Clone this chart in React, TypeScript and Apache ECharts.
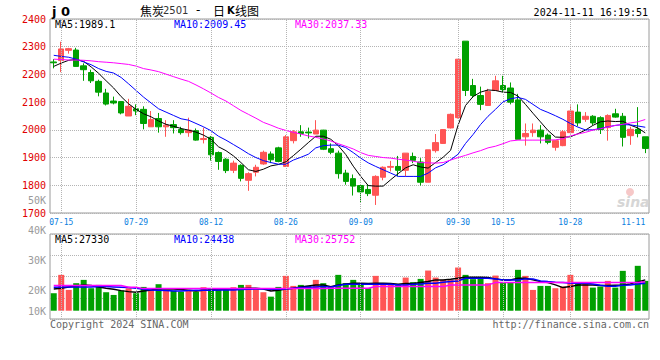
import React, { useEffect, useRef } from 'react';
import * as echarts from 'echarts';

const dates = [
  '07-12', '07-15', '07-16', '07-17', '07-18', '07-19', '07-22', '07-23', '07-24', '07-25',
  '07-26', '07-29', '07-30', '07-31', '08-01', '08-02', '08-05', '08-06', '08-07', '08-08',
  '08-09', '08-12', '08-13', '08-14', '08-15', '08-16', '08-19', '08-20', '08-21', '08-22',
  '08-23', '08-26', '08-27', '08-28', '08-29', '08-30', '09-02', '09-03', '09-04', '09-05',
  '09-06', '09-09', '09-10', '09-11', '09-12', '09-13', '09-18', '09-19', '09-20', '09-23',
  '09-24', '09-25', '09-26', '09-27', '09-30', '10-08', '10-09', '10-10', '10-11', '10-14',
  '10-15', '10-16', '10-17', '10-18', '10-21', '10-22', '10-23', '10-24', '10-25', '10-28',
  '10-29', '10-30', '10-31', '11-01', '11-04', '11-05', '11-06', '11-07', '11-08', '11-11',
];

const gridDates = ['07-15', '07-29', '08-12', '08-26', '09-09', '09-30', '10-15', '10-28'];
const labelDates = ['07-15', '07-29', '08-12', '08-26', '09-09', '09-30', '10-15', '10-28', '11-11'];

const opens = [
  2245, 2250, 2287, 2288, 2231, 2207, 2175, 2133, 2104, 2102,
  2050, 2076, 2074, 2011, 2041, 2011, 2019, 2001, 1990, 1997,
  1965, 1973, 1918, 1894, 1854, 1872, 1818, 1847, 1877, 1913,
  1935, 1868, 1961, 1993, 1992, 1985, 1999, 1932, 1916, 1844,
  1824, 1799, 1785, 1764, 1829, 1865, 1868, 1854, 1904, 1884,
  1811, 1925, 1951, 2007, 2044, 2320, 2160, 2124, 2088, 2142,
  2160, 2151, 2108, 1975, 1990, 1999, 1981, 1937, 1943, 1990,
  2064, 2038, 2049, 2044, 2008, 2058, 2049, 1979, 2002, 1975,
];
const closes = [
  2242, 2292, 2293, 2229, 2217, 2177, 2136, 2093, 2097, 2061,
  2085, 2068, 2023, 2037, 2011, 2017, 2008, 1990, 1999, 1963,
  1969, 1910, 1886, 1853, 1880, 1825, 1842, 1865, 1919, 1892,
  1886, 1975, 1993, 1987, 1989, 1999, 1930, 1919, 1842, 1814,
  1797, 1776, 1770, 1832, 1865, 1868, 1854, 1916, 1890, 1811,
  1928, 1954, 2001, 2056, 2255, 2142, 2124, 2092, 2138, 2177,
  2145, 2100, 1966, 1987, 1999, 1975, 1955, 1961, 1993, 2068,
  2025, 2049, 2025, 2001, 2052, 2046, 1973, 2002, 1987, 1933,
];
const lows = [
  2222, 2208, 2275, 2228, 2177, 2169, 2121, 2088, 2092, 2056,
  2050, 2053, 2002, 2011, 1990, 1975, 1987, 1983, 1975, 1961,
  1951, 1889, 1856, 1844, 1844, 1814, 1780, 1832, 1874, 1880,
  1883, 1866, 1951, 1975, 1969, 1985, 1927, 1912, 1824, 1802,
  1763, 1737, 1761, 1729, 1818, 1850, 1832, 1832, 1880, 1799,
  1811, 1918, 1949, 2005, 2041, 2122, 2115, 2071, 2086, 2140,
  2136, 2092, 1966, 1943, 1975, 1951, 1948, 1925, 1941, 1987,
  2013, 2029, 2017, 1985, 1961, 2044, 1940, 1946, 1973, 1916,
];
const highs = [
  2255, 2318, 2296, 2296, 2240, 2217, 2181, 2148, 2120, 2103,
  2112, 2092, 2085, 2068, 2061, 2035, 2035, 2011, 2044, 2005,
  2008, 1978, 1922, 1898, 1889, 1876, 1847, 1874, 1925, 1922,
  1939, 1981, 1999, 2017, 2008, 2035, 2000, 1951, 1925, 1856,
  1839, 1799, 1803, 1836, 1868, 1888, 1906, 1916, 1918, 1898,
  1928, 1985, 2003, 2059, 2255, 2320, 2184, 2156, 2148, 2195,
  2195, 2171, 2130, 2023, 2023, 2017, 1987, 1963, 1999, 2088,
  2092, 2064, 2053, 2049, 2056, 2076, 2061, 2011, 2082, 1975,
];

const ma5 = [
  2229, 2241, 2251, 2254, 2247, 2227, 2204, 2177, 2151, 2120,
  2094, 2074, 2058, 2047, 2032, 2020, 2013, 2005, 1999, 1992,
  1981, 1966, 1939, 1925, 1906, 1882, 1856, 1850, 1858, 1870,
  1875, 1885, 1907, 1930, 1954, 1977, 1977, 1966, 1943, 1911,
  1869, 1832, 1799, 1797, 1797, 1820, 1842, 1863, 1874, 1866,
  1862, 1882, 1901, 1926, 2017, 2088, 2120, 2136, 2144, 2142,
  2136, 2135, 2122, 2092, 2060, 2029, 1998, 1974, 1973, 1975,
  1986, 1999, 2016, 2029, 2032, 2030, 2031, 2017, 2007, 1989.1,
];
const ma10 = [
  2269, 2265, 2262, 2255, 2245, 2235, 2221, 2211, 2205, 2189,
  2166, 2142, 2118, 2097, 2076, 2064, 2052, 2040, 2035, 2023,
  2011, 1997, 1977, 1963, 1947, 1931, 1914, 1900, 1889, 1882,
  1876, 1876, 1891, 1901, 1912, 1935, 1943, 1945, 1945, 1936,
  1918, 1898, 1881, 1868, 1856, 1844, 1832, 1832, 1832, 1832,
  1844, 1863, 1874, 1892, 1912, 1951, 1983, 2019, 2049, 2074,
  2101, 2112, 2117, 2110, 2092, 2074, 2063, 2051, 2038, 2023,
  2010, 2000, 2000, 2005, 2011, 2016, 2019, 2018, 2014, 2009.45,
];
const ma30 = [
  2255, 2254, 2252, 2252, 2251, 2249, 2246, 2244, 2242, 2239,
  2236, 2230, 2221, 2216, 2210, 2201, 2192, 2183, 2175, 2162,
  2148, 2133, 2117, 2104, 2087, 2070, 2056, 2042, 2027, 2017,
  2006, 1998, 1991, 1985, 1978, 1973, 1967, 1960, 1950, 1941,
  1931, 1918, 1908, 1904, 1900, 1898, 1894, 1891, 1887, 1882,
  1881, 1880, 1882, 1891, 1900, 1908, 1917, 1925, 1935, 1941,
  1950, 1960, 1963, 1963, 1963, 1963, 1963, 1964, 1968, 1978,
  1985, 1991, 1999, 2004, 2010, 2016, 2020, 2025, 2029, 2037.33,
];

const volumes = [
  15490, 31770, 18420, 24390, 27320, 19940, 22870, 16380, 13970, 17800,
  19940, 15490, 21090, 18420, 23500, 18420, 17800, 16910, 18420, 16910,
  20830, 19940, 18420, 18420, 20830, 22870, 22870, 19310, 16380, 12460,
  21090, 30880, 21980, 22870, 21980, 27320, 24390, 21360, 31770, 24390,
  27320, 23500, 19940, 30880, 24390, 23500, 22870, 29370, 25280, 28210,
  35600, 29370, 27320, 27320, 38270, 31770, 27950, 28210, 24390, 31150,
  25280, 25280, 36220, 30880, 18420, 21980, 21980, 19940, 21360, 31770,
  24390, 23500, 20470, 21360, 26430, 20470, 35330, 19310, 39780, 26430,
];
const volMa5 = [
  19310, 19940, 21090, 21980, 22870, 22250, 21090, 19940, 19050, 17800,
  16910, 16380, 17530, 18420, 19310, 19310, 19310, 18690, 18160, 17530,
  18160, 18420, 18690, 19050, 19310, 19580, 19940, 19940, 19310, 17530,
  18160, 19310, 19940, 21090, 21980, 22870, 22870, 21360, 22870, 23760,
  24390, 24390, 24030, 24390, 24390, 24030, 23500, 24030, 24030, 24920,
  25810, 27320, 27320, 27950, 28840, 29730, 29730, 29730, 29370, 28210,
  27320, 27320, 28840, 28840, 27320, 25810, 24920, 22870, 20470, 21360,
  22870, 22870, 22870, 22250, 22250, 22610, 22870, 23760, 25540, 27330,
];
const volMa10 = [
  20830, 21090, 21090, 21090, 21090, 21090, 21360, 21360, 21090, 20830,
  20470, 19940, 19050, 18420, 18160, 17800, 17530, 17530, 17800, 18160,
  18160, 18160, 18420, 18420, 18420, 18690, 19050, 19310, 19310, 19050,
  19050, 19310, 19940, 20470, 20830, 21090, 21360, 20830, 22250, 23500,
  23500, 23500, 23500, 23500, 23500, 23500, 22870, 22870, 23500, 23760,
  24390, 24390, 25280, 25810, 26430, 28840, 28840, 28840, 28840, 28210,
  27320, 27320, 27320, 28210, 28210, 26430, 25810, 25280, 24920, 24390,
  24390, 24390, 23760, 22610, 21720, 21720, 22610, 22870, 23760, 24438,
];
const volMa30 = [
  22250, 22250, 22250, 22250, 22250, 22250, 22250, 22250, 22250, 22250,
  20830, 20830, 19580, 19580, 19580, 19580, 19580, 19580, 19580, 19580,
  19580, 19580, 19580, 19580, 19580, 19580, 19580, 19580, 19580, 19580,
  19580, 19580, 19580, 19580, 19580, 19580, 19580, 19940, 19940, 19940,
  19940, 19940, 19940, 21360, 21360, 21360, 21360, 21360, 21360, 21360,
  21360, 21360, 21360, 22870, 22870, 22870, 22870, 22870, 22870, 24920,
  24920, 24920, 24920, 24920, 24920, 24920, 24920, 24920, 24920, 24920,
  24920, 24920, 24920, 24920, 24920, 24920, 24920, 24920, 24920, 25752,
];

const MONO = '"DejaVu Sans Mono", monospace';
const RED = '#ff5555';
const GREEN = '#00a000';
const GRIDC = '#b4b4b4';

const candleData = dates.map((_, i) => [opens[i], closes[i], lows[i], highs[i]]);
const volData = volumes.map((v, i) => ({
  value: v,
  itemStyle: { color: closes[i] >= opens[i] ? RED : GREEN },
}));

const vMarkLine = {
  silent: true,
  symbol: ['none', 'none'],
  label: { show: false },
  emphasis: { disabled: true },
  lineStyle: { type: 'dotted', color: GRIDC, width: 1 },
  data: gridDates.map((d) => ({ xAxis: d })),
};

const txt = (x: number, y: number, text: string, fill: string, extra: any = {}) => ({
  type: 'text',
  x,
  y,
  silent: true,
  style: {
    text,
    fill,
    fontFamily: MONO,
    fontSize: 10,
    verticalAlign: 'middle',
    ...extra,
  },
});

const lineS = (name: string, data: number[], color: string, xi: number, yi: number, width = 1) => ({
  name,
  type: 'line',
  xAxisIndex: xi,
  yAxisIndex: yi,
  data,
  symbol: 'none',
  silent: true,
  lineStyle: { color, width },
  z: 3,
});

const option: any = {
  animation: false,
  backgroundColor: '#ffffff',
  grid: [
    { left: 50, right: 11, top: 19, height: 194, show: true, borderColor: '#9a9a9a', borderWidth: 1 },
    { left: 50, right: 11, top: 234, height: 85, show: true, borderColor: '#9a9a9a', borderWidth: 1 },
    { left: 50, right: 11, top: 234, height: 76.7 },
    { left: 50, right: 11, top: 200.5, height: 119.5 },
  ],
  xAxis: [
    {
      gridIndex: 0,
      type: 'category',
      data: dates,
      boundaryGap: true,
      axisLine: { show: false },
      axisTick: { show: false },
      splitLine: { show: false },
      axisLabel: {
        interval: (_i: number, v: string) => labelDates.includes(v),
        color: '#0a7ee0',
        fontFamily: MONO,
        fontSize: 8,
        margin: 5,
        alignMaxLabel: 'right',
      },
    },
    { gridIndex: 1, type: 'category', data: dates, show: false },
    { gridIndex: 2, type: 'category', data: dates, show: false },
    { gridIndex: 3, type: 'category', data: dates, show: false },
  ],
  yAxis: [
    {
      gridIndex: 0,
      type: 'value',
      min: 1700,
      max: 2400,
      interval: 100,
      axisLine: { show: false },
      axisTick: { show: false },
      splitLine: { lineStyle: { type: 'dotted', color: GRIDC } },
      axisLabel: {
        color: '#e00000',
        fontFamily: MONO,
        fontSize: 10,
        margin: 4,
        padding: [0, 0, 3, 0],
        formatter: (v: number) => String(v),
      },
    },
    {
      gridIndex: 1,
      type: 'value',
      min: 0,
      max: 4,
      interval: 1,
      axisLine: { show: false },
      axisTick: { show: false },
      axisLabel: { show: false },
      splitLine: { lineStyle: { type: 'dotted', color: GRIDC } },
    },
    { gridIndex: 2, type: 'value', min: 0, max: 68000, show: false },
    {
      gridIndex: 3,
      type: 'value',
      min: 10000,
      max: 50000,
      interval: 10000,
      axisLine: { show: false },
      axisTick: { show: false },
      splitLine: { show: false },
      axisLabel: {
        color: '#9a9a9a',
        fontFamily: MONO,
        fontSize: 10,
        margin: 4,
        formatter: (v: number) => (v === 10000 ? '{lo|10K}' : v / 1000 + 'K'),
        rich: {
          lo: { color: '#9a9a9a', fontFamily: MONO, fontSize: 10, padding: [0, 0, 18, 0] },
        },
      },
    },
  ],
  series: [
    {
      name: 'K',
      type: 'candlestick',
      xAxisIndex: 0,
      yAxisIndex: 0,
      data: candleData,
      barWidth: 6,
      silent: true,
      itemStyle: { color: RED, color0: GREEN, borderColor: RED, borderColor0: GREEN, borderWidth: 1 },
      markLine: vMarkLine,
      z: 2,
    },
    lineS('MA5', ma5, '#000000', 0, 0),
    lineS('MA10', ma10, '#0000ff', 0, 0),
    lineS('MA30', ma30, '#ff00ff', 0, 0),
    {
      name: 'frame',
      type: 'line',
      xAxisIndex: 1,
      yAxisIndex: 1,
      data: dates.map(() => null),
      symbol: 'none',
      silent: true,
      markLine: vMarkLine,
    },
    {
      name: 'VOL',
      type: 'bar',
      xAxisIndex: 2,
      yAxisIndex: 2,
      data: volData,
      barWidth: 6,
      silent: true,
      z: 2,
    },
    lineS('VMA5', volMa5, '#000000', 2, 2, 1.5),
    lineS('VMA10', volMa10, '#0000ff', 2, 2, 1.5),
    lineS('VMA30', volMa30, '#ff00ff', 2, 2, 1.5),
  ],
  graphic: [
    txt(52, 11, 'j 0', '#000', { fontFamily: '"DejaVu Sans"', fontWeight: 'bold', fontSize: 13 }),
    txt(140, 10, '焦炭', '#000', { fontFamily: '"Noto Sans CJK SC"', fontSize: 12 }),
    txt(163, 10, '2501', '#333', { fontFamily: '"DejaVu Sans"', fontSize: 10 }),
    txt(196, 10, '-', '#000', { fontFamily: '"DejaVu Sans"', fontSize: 12 }),
    txt(213, 10, '日', '#000', { fontFamily: '"Noto Sans CJK SC"', fontSize: 12 }),
    txt(227, 10, 'K', '#000', { fontFamily: '"DejaVu Sans"', fontWeight: 'bold', fontSize: 10 }),
    txt(235, 10, '线图', '#000', { fontFamily: '"Noto Sans CJK SC"', fontSize: 12 }),
    txt(648, 12, '2024-11-11 16:19:51', '#000', { align: 'right' }),
    txt(55, 24, 'MA5:1989.1', '#000'),
    txt(174, 24, 'MA10:2009.45', '#0000ff'),
    txt(295, 24, 'MA30:2037.33', '#ff00ff'),
    txt(55, 239, 'MA5:27330', '#000'),
    txt(174, 239, 'MA10:24438', '#0000ff'),
    txt(295, 239, 'MA30:25752', '#ff00ff'),
    txt(50, 324, 'Copyright 2024 SINA.COM', '#666'),
    txt(649, 324, 'http://finance.sina.com.cn', '#666', { align: 'right' }),
    { type: 'circle', shape: { cx: 630, cy: 192, r: 4 }, silent: true, style: { fill: '#f6c8c8' } },
    txt(617, 202, 'sina', '#d6d6d6', { fontFamily: '"DejaVu Sans"', fontStyle: 'italic', fontWeight: 'bold', fontSize: 14 }),
  ],
};

export default function App() {
  const ref = useRef<HTMLDivElement>(null);
  useEffect(() => {
    const chart = echarts.init(ref.current as HTMLDivElement, null, { renderer: 'svg' });
    chart.setOption(option);
    return () => chart.dispose();
  }, []);
  return (
    <div
      ref={ref}
      style={{ position: 'absolute', left: 0, top: 0, width: 660, height: 360, background: '#fff' }}
    />
  );
}
